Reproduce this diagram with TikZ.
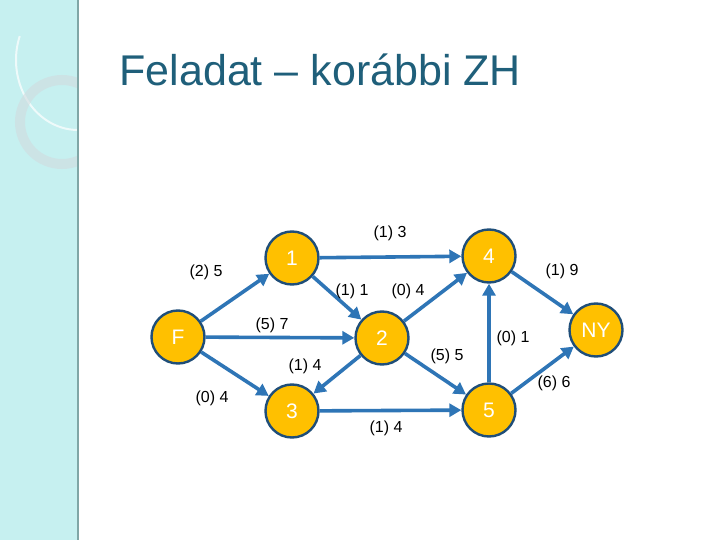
\documentclass[tikz,border=0pt]{standalone}
\usepackage{fontspec}
\setmainfont{Liberation Sans}
\usetikzlibrary{arrows.meta}
\definecolor{nodefill}{HTML}{FFC000}
\definecolor{nodeline}{HTML}{1F4E79}
\definecolor{edgec}{HTML}{2E75B6}
\definecolor{titlec}{HTML}{1F5F7A}
\definecolor{panel}{HTML}{C6F0F0}
\begin{document}
\begin{tikzpicture}[x=1pt,y=-1pt,
  vx/.style={circle,fill=nodefill,draw=nodeline,line width=2.4pt,minimum size=53pt,inner sep=0pt,text=white,font=\fontsize{21}{21}\selectfont},
  ed/.style={draw=edgec,line width=3.6pt,-{Triangle[length=12pt,width=13pt]}},
  lb/.style={font=\fontsize{16}{16}\selectfont}]
\useasboundingbox (0,0) rectangle (720,540);
\fill[white] (0,0) rectangle (720,540);
\fill[panel] (0,0) rectangle (78,540);
\begin{scope}
\clip (0,0) rectangle (78,540);
\draw[white!70!panel,line width=2pt] (78,130) arc (90:200:62 and 70);
\draw[cyan!20!gray!35,line width=10pt,opacity=0.6] (62,122) circle (42);
\end{scope}
\draw[black!40!teal!50,line width=1.5pt] (78,0) -- (78,540);
\node[text=titlec,font=\fontsize{43}{44}\selectfont,anchor=west] (title) at (116,70) {Feladat – korábbi ZH};
\node[vx] (F) at (178,337) {F};
\node[vx] (n1) at (292,258) {1};
\node[vx] (n4) at (489,256) {4};
\node[vx] (n2) at (382,338) {2};
\node[vx] (NY) at (596,330) {NY};
\node[vx] (n3) at (292,411) {3};
\node[vx] (n5) at (489,410) {5};
\draw[ed] (F) -- (n1);
\draw[ed] (F) -- (n2);
\draw[ed] (F) -- (n3);
\draw[ed] (n1) -- (n4);
\draw[ed] (n1) -- (n2);
\draw[ed] (n2) -- (n4);
\draw[ed] (n2) -- (n3);
\draw[ed] (n2) -- (n5);
\draw[ed] (n3) -- (n5);
\draw[ed] (n5) -- (n4);
\draw[ed] (n4) -- (NY);
\draw[ed] (n5) -- (NY);
\node[lb] (l1) at (390,233) {(1) 3};
\node[lb] (l2) at (206,272) {(2) 5};
\node[lb] (l3) at (352,291) {(1) 1};
\node[lb] (l4) at (408,291) {(0) 4};
\node[lb] (l5) at (562,271) {(1) 9};
\node[lb] (l6) at (272,325) {(5) 7};
\node[lb] (l7) at (513,338) {(0) 1};
\node[lb] (l8) at (447,356) {(5) 5};
\node[lb] (l9) at (305,366) {(1) 4};
\node[lb] (l10) at (212,398) {(0) 4};
\node[lb] (l11) at (386,428) {(1) 4};
\node[lb] (l12) at (554,383) {(6) 6};
\end{tikzpicture}
\end{document}
